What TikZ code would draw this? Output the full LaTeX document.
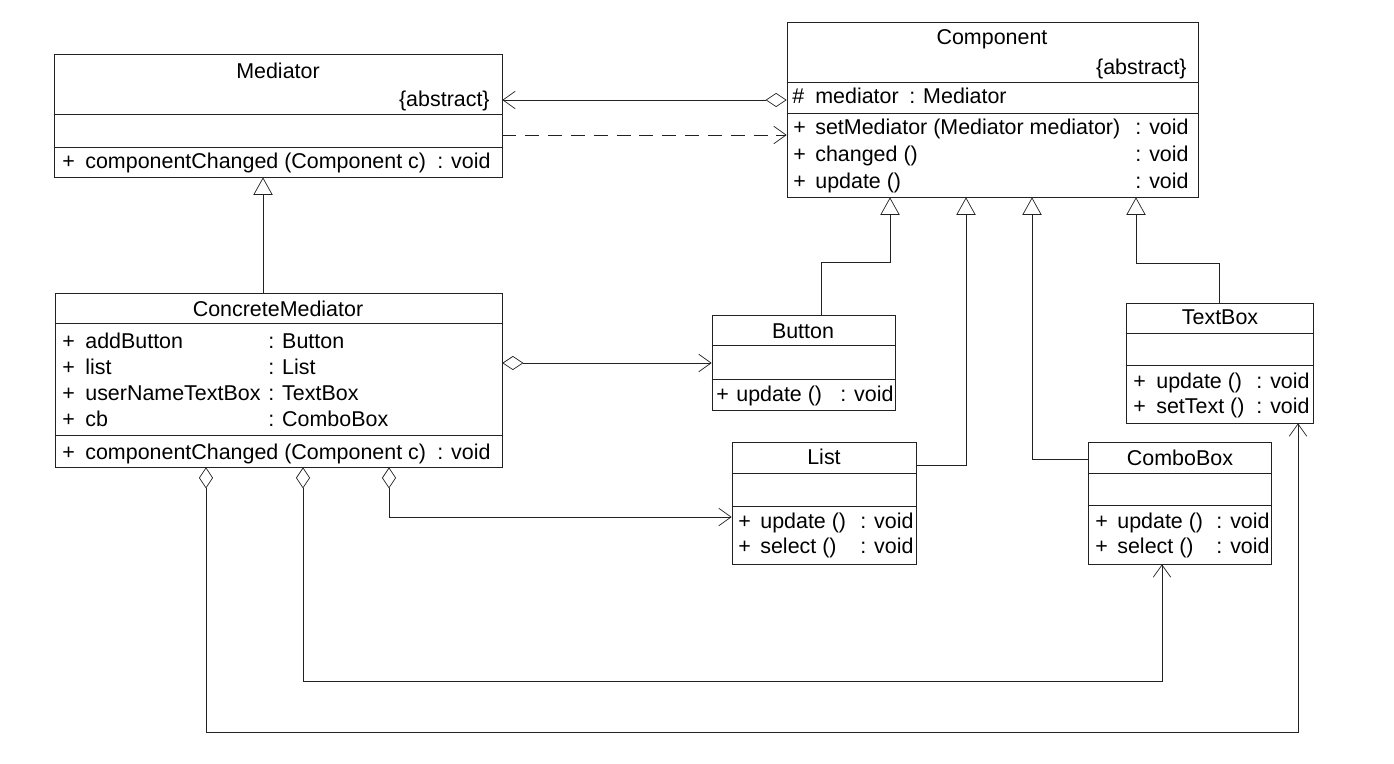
\documentclass[tikz,border=0pt]{standalone}
\usepackage{fontspec}
\setmainfont{Liberation Sans}
\usetikzlibrary{arrows.meta,fit}
\definecolor{ink}{HTML}{222222}
\newcommand\umlsize{\fontsize{12.2}{14.5}\selectfont}
\tikzset{line width=.85pt,
  every node/.style={font=\umlsize},
  classbox/.style={draw=ink,inner sep=0pt},
  divider/.style={draw=ink},
  txt/.style={inner sep=0pt,anchor=base west},
  ttl/.style={inner sep=0pt,anchor=base},
  rtxt/.style={inner sep=0pt,anchor=base east},
  aggr/.style={draw=ink,{Diamond[open,length=12pt,width=8pt]}-{Straight Barb[length=7pt,width=10pt]}},
  gen/.style={draw=ink,-{Triangle[open,length=10pt,width=11pt]}},
  dep/.style={draw=ink,dash pattern=on 8pt off 5pt,-{Straight Barb[length=7pt,width=10pt]}}}
\begin{document}
\begin{tikzpicture}[x=.02cm,y=-.02cm]
\path[use as bounding box] (0,0) rectangle (1394,764);
\node[classbox,fit={(54,54)(502,177)}] (med) {};
\node[classbox,fit={(787,22)(1198,197)}] (comp) {};
\node[classbox,fit={(55,293)(502,467)}] (cmed) {};
\node[classbox,fit={(712,315)(895,410)}] (btn) {};
\node[classbox,fit={(732,442)(916,564)}] (lst) {};
\node[classbox,fit={(1126,303)(1313,423)}] (tbox) {};
\node[classbox,fit={(1088,442)(1271,564)}] (cbox) {};
\foreach \nm/\yy in {med/114,med/147,comp/82,comp/113,cmed/323,cmed/435,btn/345,btn/379,
  lst/473,lst/506,tbox/333,tbox/365,cbox/473,cbox/505}
  \draw[divider] (\nm.west|-0,\yy)--(\nm.east|-0,\yy);
% Mediator
\node[ttl] (med-t) at (278,78) {Mediator};
\node[rtxt] (med-a) at (490,106) {\{abstract\}};
\node[txt] (med-p) at (62,168) {+};
\node[txt] (med-m) at (85,168) {componentChanged (Component c)};
\node[txt] (med-r) at (437,168) {: void};
% Component
\node[ttl] (comp-t) at (992,44) {Component};
\node[rtxt] (comp-a) at (1187,74) {\{abstract\}};
\node[txt] (comp-h) at (792,103) {\#};
\node[txt] (comp-f) at (815,103) {mediator};
\node[txt] (comp-ft) at (909,103) {: Mediator};
\foreach \nm/\yy [count=\i] in {{setMediator (Mediator mediator)}/134,{changed ()}/161,{update ()}/188}{
  \node[txt] (comp-p\i) at (793,\yy) {+};\node[txt] (comp-m\i) at (815,\yy) {\nm};
  \node[txt] (comp-r\i) at (1135,\yy) {: void};}
% ConcreteMediator
\node[ttl] (cmed-t) at (278,316) {ConcreteMediator};
\foreach \nm/\tp/\yy [count=\i] in {addButton/Button/348,list/List/374,userNameTextBox/TextBox/400,cb/ComboBox/426}{
  \node[txt] (cmed-p\i) at (62,\yy) {+};\node[txt] (cmed-f\i) at (85,\yy) {\nm};
  \node[txt] (cmed-ft\i) at (268,\yy) {: \tp};}
\node[txt] (cmed-p) at (62,459) {+};
\node[txt] (cmed-m) at (85,459) {componentChanged (Component c)};
\node[txt] (cmed-r) at (437,459) {: void};
% Button, List, TextBox, ComboBox
\node[ttl] (btn-t) at (803,338) {Button};
\node[txt] (btn-p) at (716,401) {+};\node[txt] (btn-m) at (736,401) {update ()};
\node[txt] (btn-r) at (840,401) {: void};
\node[ttl] (lst-t) at (824,464) {List};
\node[ttl] (tbox-t) at (1220,324) {TextBox};
\node[ttl] (cbox-t) at (1180,465) {ComboBox};
\foreach \bx/\px/\mx/\rx/\ya/\yb/\ma/\mb in {lst/738/760/860/528/553/update/select,
  tbox/1133/1156/1256/388/413/update/setText,cbox/1095/1117/1216/528/553/update/select}{
  \node[txt] (\bx-p1) at (\px,\ya) {+};\node[txt] (\bx-m1) at (\mx,\ya) {\ma\ ()};
  \node[txt] (\bx-r1) at (\rx,\ya) {: void};
  \node[txt] (\bx-p2) at (\px,\yb) {+};\node[txt] (\bx-m2) at (\mx,\yb) {\mb\ ()};
  \node[txt] (\bx-r2) at (\rx,\yb) {: void};}
% relations
\draw[aggr] (comp.west|-0,100) -- (med.east|-0,100);
\draw[dep] (med.east|-0,135) -- (comp.west|-0,135);
\draw[gen] (cmed.north-|263,0) -- (med.south-|263,0);
\draw[aggr] (cmed.east|-0,363) -- (btn.west|-0,363);
\draw[aggr] (cmed.south-|389,0) |- (lst.west|-0,517);
\draw[aggr] (cmed.south-|303,0) |- (1162,681) -- (cbox.south-|1162,0);
\draw[aggr] (cmed.south-|206,0) |- (1298,732) -- (tbox.south-|1298,0);
\draw[gen] (btn.north-|821,0) |- (890,262) -- (comp.south-|890,0);
\draw[gen] (lst.east|-0,465) -| (comp.south-|966,0);
\draw[gen] (cbox.west|-0,459) -| (comp.south-|1032,0);
\draw[gen] (tbox.north-|1219,0) |- (1136,263) -- (comp.south-|1136,0);
\end{tikzpicture}
\end{document}
